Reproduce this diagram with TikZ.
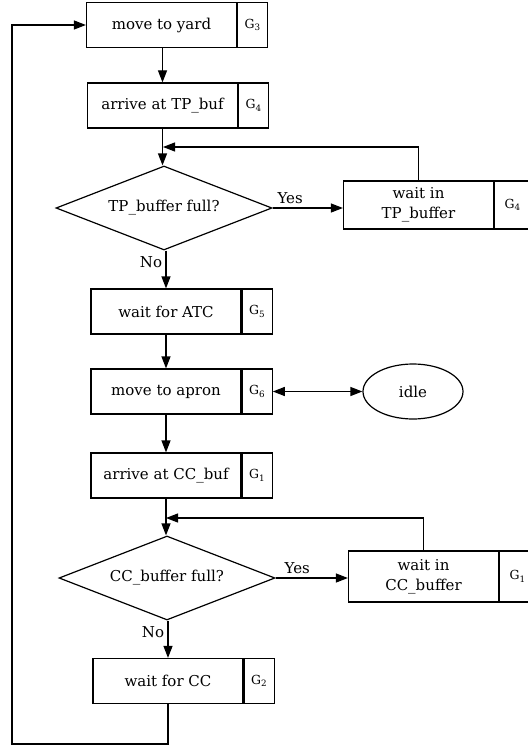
\documentclass[tikz,border=0pt]{standalone}
\usepackage{fontspec}
\setmainfont{DejaVu Serif}
\usetikzlibrary{arrows.meta,shapes.geometric,positioning}

\tikzset{
  proc/.style={draw,minimum width=150pt,minimum height=45pt,inner sep=0pt,
               align=center,font=\fontsize{15}{20}\selectfont},
  tag/.style={draw,minimum width=30pt,minimum height=45pt,inner sep=0pt,
              anchor=west,font=\fontsize{12.5}{14}\selectfont},
  dec/.style={draw,diamond,aspect=2.57,minimum width=216pt,minimum height=84pt,
              inner sep=0pt,font=\fontsize{15}{17}\selectfont},
  arr/.style={-{Triangle[length=12pt,width=9pt]}},
  lbl/.style={font=\fontsize{15}{17}\selectfont}
}

\begin{document}
\begin{tikzpicture}[x=1pt,y=-1pt,line width=1.2pt]
\useasboundingbox (0,0) rectangle (527,749);

% left column
\node[proc] (yard) at (161.5,25) {move to yard};
\node[tag] (g3) at (yard.east) {G\textsubscript{3}};
\node[proc] (tpbuf) at (162.5,105.5) {arrive at TP\_buf};
\node[tag] (g4) at (tpbuf.east) {G\textsubscript{4}};
\node[dec] (tpfull) at (164,208) {TP\_buffer full?};
\node[proc] (atc) at (166,311.5) {wait for ATC};
\node[tag] (g5) at (atc.east) {G\textsubscript{5}};
\node[proc] (apron) at (166,391.5) {move to apron};
\node[tag] (g6) at (apron.east) {G\textsubscript{6}};
\node[proc] (ccbuf) at (166,475.5) {arrive at CC\_buf};
\node[tag] (g1) at (ccbuf.east) {G\textsubscript{1}};
\node[dec] (ccfull) at (167,578) {CC\_buffer full?};
\node[proc] (cc) at (168,681) {wait for CC};
\node[tag] (g2) at (cc.east) {G\textsubscript{2}};

% right column
\node[proc,minimum height=48pt] (tpwait) at (418.5,205) {wait in\\TP\_buffer};
\node[tag,minimum height=48pt,minimum width=36pt] (g4b) at (tpwait.east) {G\textsubscript{4}};
\node[proc,minimum height=51pt] (ccwait) at (423.5,576.5) {wait in\\CC\_buffer};
\node[tag,minimum height=51pt,minimum width=36pt] (g1b) at (ccwait.east) {G\textsubscript{1}};
\node[draw,ellipse,minimum width=100pt,minimum height=55pt,inner sep=0pt,
      font=\fontsize{15}{17}\selectfont] (idle) at (413,391.5) {idle};

% helper points
\coordinate (m1) at (163,147);
\coordinate (m2) at (166,518);
\coordinate (lb) at (12,744);

% connectors
\draw[arr] (yard.south -| tpbuf) -- (tpbuf);
\draw[arr] (tpbuf) -- (tpbuf |- tpfull.north);
\draw[arr] (tpfull) -- node[lbl,above,pos=0.25] {Yes} (tpwait.west |- tpfull);
\draw[arr] (tpwait.north) |- (m1);
\draw[arr] (tpfull.south -| atc) -- node[lbl,left,pos=0.3] {No} (atc);
\draw[arr] (atc) -- (apron);
\draw[{Triangle[length=12pt,width=9pt]}-{Triangle[length=12pt,width=9pt]}] (g6) -- (idle);
\draw[arr] (apron) -- (ccbuf);
\draw[arr] (ccbuf) -- (ccbuf |- ccfull.north);
\draw[arr] (ccfull) -- node[lbl,above,pos=0.3] {Yes} (ccwait.west |- ccfull);
\draw[arr] (ccwait.north) |- (m2);
\draw[arr] (ccfull.south -| cc) -- node[lbl,left,pos=0.3] {No} (cc);
\draw[arr] (cc.south) |- (lb) |- (yard.west);
\end{tikzpicture}
\end{document}
